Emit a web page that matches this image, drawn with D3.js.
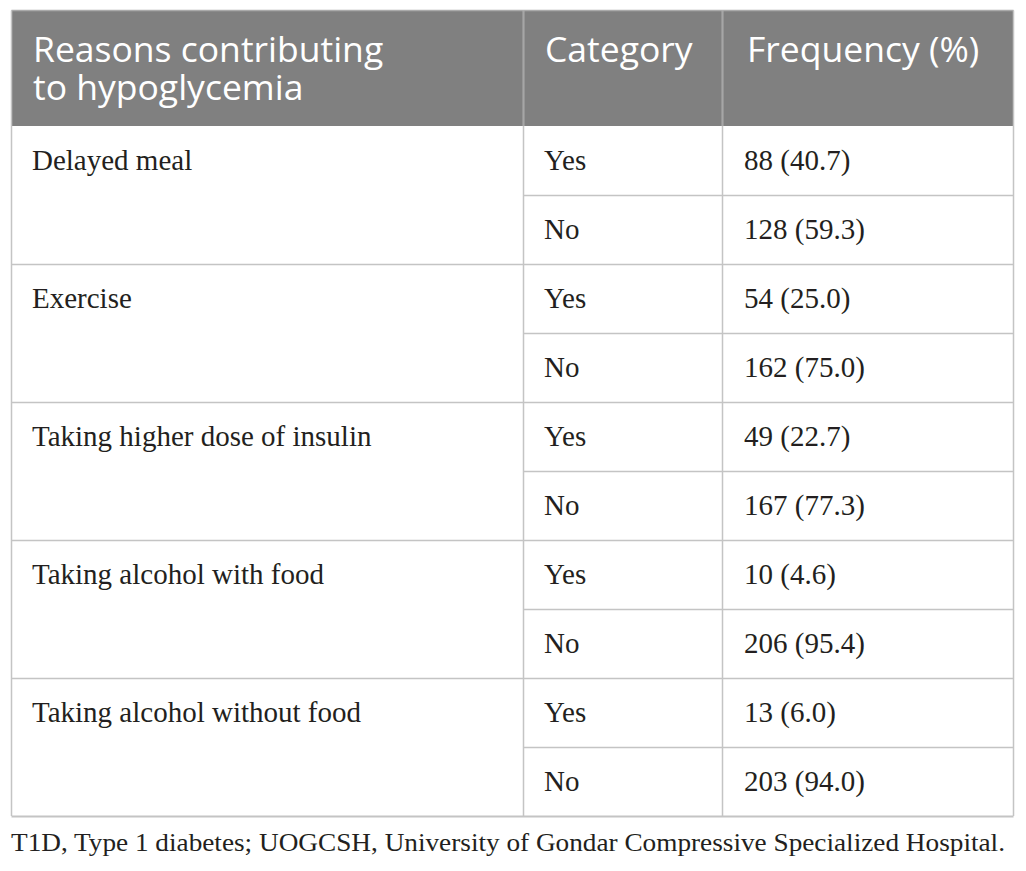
<!DOCTYPE html>
<html><head><meta charset="utf-8">
<script src="https://cdn.jsdelivr.net/npm/d3@7"></script>
<style>html,body{margin:0;padding:0;background:#fff;}svg{display:block;}</style>
</head><body>
<svg id="c" width="1026" height="871"></svg>
<script>
const headers = [["Reasons contributing","to hypoglycemia"],["Category"],["Frequency (%)"]];
const reasons = ["Delayed meal","Exercise","Taking higher dose of insulin","Taking alcohol with food","Taking alcohol without food"];
const categories = ["Yes","No"];
const counts = [[88,128],[54,162],[49,167],[10,206],[13,203]];
const percents = [["40.7","59.3"],["25.0","75.0"],["22.7","77.3"],["4.6","95.4"],["6.0","94.0"]];
const footnote = "T1D, Type 1 diabetes; UOGCSH, University of Gondar Compressive Specialized Hospital.";

(function(){
const svg = d3.select("#c");
const tLeft = 11.5, tRight = 1013.5, tTop = 10.5, headBottom = 126, tBottom = 816;
const colEdges = [tLeft, 523, 722, tRight];
const rowsFlat = [];
reasons.forEach((r,i)=>categories.forEach((c,j)=>rowsFlat.push({i,j,r,c,n:counts[i][j],p:percents[i][j]})));
const y = d3.scaleBand().domain(d3.range(rowsFlat.length)).range([headBottom, tBottom]);
const lineCol = "#c4c4c4";

svg.append("rect").attr("x",tLeft).attr("y",tTop).attr("width",tRight-tLeft).attr("height",headBottom-tTop).attr("fill","#808080");

const hx = [33, 545, 747];
headers.forEach((h,k)=>{
  const t = svg.append("text").attr("fill","#fff")
    .attr("font-family","'Open Sans', sans-serif").attr("font-size",35.5);
  h.forEach((line,li)=>t.append("tspan").attr("x",hx[k]).attr("y",62+li*38).text(line));
});

rowsFlat.forEach((d,idx)=>{
  if(idx===0) return;
  const yy = Math.round(y(idx))+0.5;
  const x0 = d.j===0 ? tLeft : colEdges[1];
  svg.append("line").attr("x1",x0).attr("x2",tRight).attr("y1",yy).attr("y2",yy).attr("stroke",lineCol).attr("stroke-width",1.5);
});
svg.append("line").attr("x1",tLeft).attr("x2",tRight).attr("y1",tBottom+0.5).attr("y2",tBottom+0.5).attr("stroke",lineCol).attr("stroke-width",2);
svg.append("line").attr("x1",tLeft).attr("x2",tRight).attr("y1",tTop).attr("y2",tTop).attr("stroke","#aaa").attr("stroke-width",1.5);
colEdges.forEach((x,k)=>{
  const xx = (k===1||k===2) ? x+0.5 : x;
  svg.append("line").attr("x1",xx).attr("x2",xx).attr("y1",tTop).attr("y2",tBottom)
    .attr("stroke",lineCol).attr("stroke-width",1.5);
});
[colEdges[1],colEdges[2]].forEach(x=>{
  svg.append("line").attr("x1",x+0.5).attr("x2",x+0.5).attr("y1",tTop).attr("y2",headBottom).attr("stroke","#a6a6a6").attr("stroke-width",1.5);
});

const bodyFont = "'Liberation Serif', 'Times New Roman', serif";
const textCol = "#231f20";
reasons.forEach((r,i)=>{
  svg.append("text").attr("x",32).attr("y",y(i*2)+44).attr("font-family",bodyFont).attr("font-size",29).attr("fill",textCol).text(r);
});
svg.selectAll("text.cat").data(rowsFlat).join("text").attr("class","cat")
  .attr("x",544).attr("y",(d,idx)=>y(idx)+44).attr("font-family",bodyFont).attr("font-size",29).attr("fill",textCol).text(d=>d.c);
svg.selectAll("text.freq").data(rowsFlat).join("text").attr("class","freq")
  .attr("x",744).attr("y",(d,idx)=>y(idx)+44).attr("font-family",bodyFont).attr("font-size",29).attr("fill",textCol).text(d=>`${d.n} (${d.p})`);

svg.append("text").attr("x",11).attr("y",851).attr("font-family",bodyFont).attr("font-size",26).attr("fill",textCol)
  .attr("textLength",994).attr("lengthAdjust","spacingAndGlyphs").text(footnote);
})();
</script>
</body></html>
